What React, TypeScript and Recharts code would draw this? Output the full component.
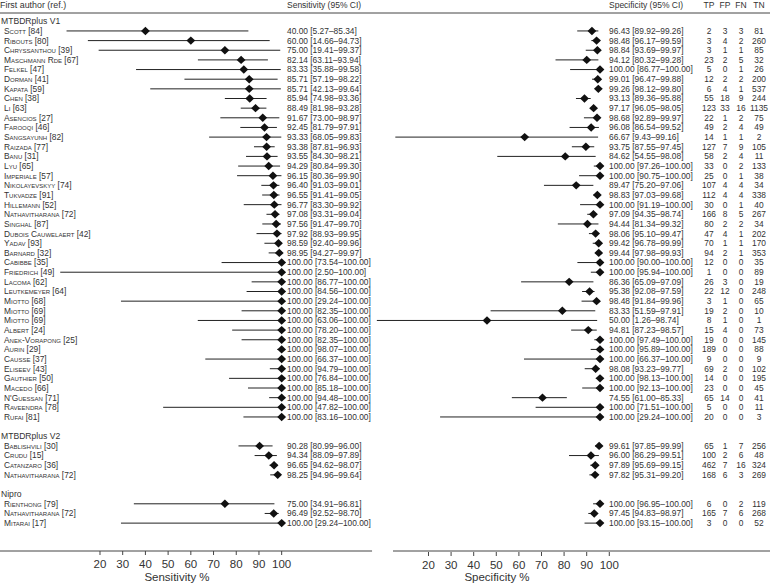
import { ScatterChart, Scatter, XAxis, YAxis, ErrorBar, ReferenceLine } from "recharts";

// ---- data ----
const v1Authors = [
  "Scott [84]", "Ribouts [80]", "Chryssanthou [39]", "Maschmann Rde [67]", "Felkel [47]",
  "Dorman [41]", "Kapata [59]", "Chen [38]", "Li [63]", "Asencios [27]", "Farooqi [46]",
  "Sangsayunh [82]", "Raizada [77]", "Banu [31]", "Lyu [65]", "Imperiale [57]",
  "Nikolayevskyy [74]", "Tukvadze [91]", "Hillemann [52]", "Nathavitharana [72]",
  "Singhal [87]", "Dubois Cauwelaert [42]", "Yadav [93]", "Barnard [32]", "Cabibbe [35]",
  "Friedrich [49]", "Lacoma [62]", "Leutkemeyer [64]", "Miotto [68]", "Miotto [69]",
  "Miotto [69]", "Albert [24]", "Anek-Vorapong [25]", "Aurin [29]", "Causse [37]",
  "Eliseev [43]", "Gauthier [50]", "Macedo [66]", "N'Guessan [71]", "Raveendra [78]",
  "Rufai [81]",
];
// [estimate, lower, upper]
const v1Sens = [
  [40.0, 5.27, 85.34], [60.0, 14.66, 94.73], [75.0, 19.41, 99.37], [82.14, 63.11, 93.94],
  [83.33, 35.88, 99.58], [85.71, 57.19, 98.22], [85.71, 42.13, 99.64], [85.94, 74.98, 93.36],
  [88.49, 81.98, 93.28], [91.67, 73.0, 98.97], [92.45, 81.79, 97.91], [93.33, 68.05, 99.83],
  [93.38, 87.81, 96.93], [93.55, 84.3, 98.21], [94.29, 80.84, 99.3], [96.15, 80.36, 99.9],
  [96.4, 91.03, 99.01], [96.55, 91.41, 99.05], [96.77, 83.3, 99.92], [97.08, 93.31, 99.04],
  [97.56, 91.47, 99.7], [97.92, 88.93, 99.95], [98.59, 92.4, 99.96], [98.95, 94.27, 99.97],
  [100, 73.54, 100], [100, 2.5, 100], [100, 86.77, 100], [100, 84.56, 100], [100, 29.24, 100],
  [100, 82.35, 100], [100, 63.06, 100], [100, 78.2, 100], [100, 82.35, 100], [100, 98.07, 100],
  [100, 66.37, 100], [100, 94.79, 100], [100, 76.84, 100], [100, 85.18, 100], [100, 94.48, 100],
  [100, 47.82, 100], [100, 83.16, 100],
];
const v1Spec = [
  [96.43, 89.92, 99.26], [98.48, 96.17, 99.59], [98.84, 93.69, 99.97], [94.12, 80.32, 99.28],
  [100, 86.77, 100], [99.01, 96.47, 99.88], [99.26, 98.12, 99.8], [93.13, 89.36, 95.88],
  [97.17, 96.05, 98.05], [98.68, 92.89, 99.97], [96.08, 86.54, 99.52], [66.67, 9.43, 99.16],
  [93.75, 87.55, 97.45], [84.62, 54.55, 98.08], [100, 97.26, 100], [100, 90.75, 100],
  [89.47, 75.2, 97.06], [98.83, 97.03, 99.68], [100, 91.19, 100], [97.09, 94.35, 98.74],
  [94.44, 81.34, 99.32], [98.06, 95.1, 99.47], [99.42, 96.78, 99.99], [99.44, 97.98, 99.93],
  [100, 90.0, 100], [100, 95.94, 100], [86.36, 65.09, 97.09], [95.38, 92.08, 97.59],
  [98.48, 91.84, 99.96], [83.33, 51.59, 97.91], [50.0, 1.26, 98.74], [94.81, 87.23, 98.57],
  [100, 97.49, 100], [100, 95.89, 100], [100, 66.37, 100], [98.08, 93.23, 99.77],
  [100, 98.13, 100], [100, 92.13, 100], [74.55, 61.0, 85.33], [100, 71.51, 100],
  [100, 29.24, 100],
];
// [TP, FP, FN, TN]
const v1Counts = [
  [2, 3, 3, 81], [3, 4, 2, 260], [3, 1, 1, 85], [23, 2, 5, 32], [5, 0, 1, 26], [12, 2, 2, 200],
  [6, 4, 1, 537], [55, 18, 9, 244], [123, 33, 16, 1135], [22, 1, 2, 75], [49, 2, 4, 49],
  [14, 1, 1, 2], [127, 7, 9, 105], [58, 2, 4, 11], [33, 0, 2, 133], [25, 0, 1, 38],
  [107, 4, 4, 34], [112, 4, 4, 338], [30, 0, 1, 40], [166, 8, 5, 267], [80, 2, 2, 34],
  [47, 4, 1, 202], [70, 1, 1, 170], [94, 2, 1, 353], [12, 0, 0, 35], [1, 0, 0, 89],
  [26, 3, 0, 19], [22, 12, 0, 248], [3, 1, 0, 65], [19, 2, 0, 10], [8, 1, 0, 1],
  [15, 4, 0, 73], [19, 0, 0, 145], [189, 0, 0, 88], [9, 0, 0, 9], [69, 2, 0, 102],
  [14, 0, 0, 195], [23, 0, 0, 45], [65, 14, 0, 41], [5, 0, 0, 11], [20, 0, 0, 3],
];

const v2Authors = ["Bablishvili [30]", "Crudu [15]", "Catanzaro [36]", "Nathavitharana [72]"];
const v2Sens = [[90.28, 80.99, 96.0], [94.34, 88.09, 97.89], [96.65, 94.62, 98.07], [98.25, 94.96, 99.64]];
const v2Spec = [[99.61, 97.85, 99.99], [96.0, 86.29, 99.51], [97.89, 95.69, 99.15], [97.82, 95.31, 99.2]];
const v2Counts = [[65, 1, 7, 256], [100, 2, 6, 48], [462, 7, 16, 324], [168, 6, 3, 269]];

const niproAuthors = ["Rienthong [79]", "Nathavitharana [72]", "Mitarai [17]"];
const niproSens = [[75.0, 34.91, 96.81], [96.49, 92.52, 98.7], [100, 29.24, 100]];
const niproSpec = [[100, 96.95, 100], [97.45, 94.83, 98.97], [100, 93.15, 100]];
const niproCounts = [[6, 0, 2, 119], [165, 7, 6, 268], [3, 0, 0, 52]];

const axisTicks = [20, 30, 40, 50, 60, 70, 80, 90, 100];
const countHeaders = ["TP", "FP", "FN", "TN"];

// ---- layout ----
const FONT = "'Liberation Sans', Arial, sans-serif";
const INK = "#333";
const SENS_DOMAIN: [number, number] = [-24.03, 315.03];
const SPEC_TICK_DOMAIN: [number, number] = [-169.6, 171.11];
const SPEC_DATA_DOMAIN: [number, number] = [-165.49, 175.22];
const ROW_DOMAIN: [number, number] = [-0.86, 54.89];
const COUNT_X = [709, 725, 741, 759];

const groups = [
  { name: "MTBDRplus V1", authors: v1Authors, sens: v1Sens, spec: v1Spec, counts: v1Counts },
  { name: "MTBDRplus V2", authors: v2Authors, sens: v2Sens, spec: v2Spec, counts: v2Counts },
  { name: "Nipro", authors: niproAuthors, sens: niproSens, spec: niproSpec, counts: niproCounts },
];

type Row = {
  row: number;
  kind: "group" | "study";
  label: string;
  sens?: number[];
  spec?: number[];
  counts?: number[];
};

const rows: Row[] = [];
let r = 0;
groups.forEach((g, gi) => {
  if (gi > 0) r += 1; // blank line between groups
  rows.push({ row: r++, kind: "group", label: g.name });
  g.authors.forEach((a, i) => {
    rows.push({ row: r++, kind: "study", label: a, sens: g.sens[i], spec: g.spec[i], counts: g.counts[i] });
  });
});

const rowLookup: Record<number, Row> = {};
rows.forEach((row) => (rowLookup[row.row] = row));
const studies = rows.filter((row) => row.kind === "study");

const sensPoints = studies.map((s) => ({
  x: s.sens![0],
  y: s.row,
  err: [s.sens![0] - s.sens![1], s.sens![2] - s.sens![0]],
}));
const specPoints = studies.map((s) => ({
  x: s.spec![0],
  y: s.row,
  err: [s.spec![0] - s.spec![1], s.spec![2] - s.spec![0]],
}));

const ciText = (t: number[]) => `${t[0].toFixed(2)} [${t[1].toFixed(2)}–${t[2].toFixed(2)}]`;

function Diamond(props: any) {
  const { cx, cy } = props;
  if (cx == null || cy == null) return null;
  const w = 4.4;
  const h = 4.2;
  return <path d={`M${cx - w},${cy}L${cx},${cy - h}L${cx + w},${cy}L${cx},${cy + h}Z`} fill="#111" />;
}

function RowLabels(props: any) {
  const { y, payload } = props;
  const row = rowLookup[payload.value];
  if (!row) return null;
  const txt = { fontFamily: FONT, fill: INK, dy: "0.35em" } as any;
  return (
    <g>
      {row.row === 0 ? (
        <g>
          <text x={0} y={y - 16.3} fontSize={8.9} {...txt}>First author (ref.)</text>
          <text x={287} y={y - 16.3} fontSize={8.5} {...txt}>Sensitivity (95% CI)</text>
          <text x={609} y={y - 16.3} fontSize={8.5} {...txt}>Specificity (95% CI)</text>
          {countHeaders.map((h, k) => (
            <text key={h} x={COUNT_X[k]} y={y - 16.3} fontSize={8.5} textAnchor="middle" {...txt}>
              {h}
            </text>
          ))}
        </g>
      ) : null}
      {row.kind === "group" ? (
        <text x={1} y={y} fontSize={8.6} {...txt}>{row.label}</text>
      ) : (
        <g>
          <text x={4} y={y} fontSize={8.4} style={{ fontVariant: "small-caps" }} {...txt}>
            {row.label}
          </text>
          <text x={287} y={y} fontSize={8.4} {...txt}>{ciText(row.sens!)}</text>
          <text x={609} y={y} fontSize={8.4} {...txt}>{ciText(row.spec!)}</text>
          {row.counts!.map((c, k) => (
            <text key={k} x={COUNT_X[k]} y={y} fontSize={8.4} textAnchor="middle" {...txt}>
              {c}
            </text>
          ))}
        </g>
      )}
    </g>
  );
}

function AxisTitle({ text, cx }: { text: string; cx: number }) {
  return (
    <text x={cx} y={581} textAnchor="middle" fontFamily={FONT} fontSize={11.5} fill={INK}>
      {text}
    </text>
  );
}

const tickStyle = { fontFamily: FONT, fontSize: 11.5, fill: INK };

export default function App() {
  return (
    <div style={{ position: "absolute", left: 0, top: 0, width: 770, height: 585, background: "#fff" }}>
      <ScatterChart width={770} height={585} margin={{ top: 13, right: 0, bottom: 32, left: 0 }}>
        <XAxis
          xAxisId="sens"
          dataKey="x"
          type="number"
          domain={SENS_DOMAIN}
          allowDataOverflow
          ticks={axisTicks}
          interval={0}
          height={1}
          axisLine={false}
          tickLine={{ stroke: "#444" }}
          tickSize={4}
          tickMargin={5}
          tick={tickStyle}
          label={<AxisTitle text="Sensitivity %" cx={177} />}
        />
        <XAxis
          xAxisId="specTicks"
          dataKey="x"
          type="number"
          domain={SPEC_TICK_DOMAIN}
          allowDataOverflow
          ticks={axisTicks}
          interval={0}
          height={1}
          axisLine={false}
          tickLine={{ stroke: "#444" }}
          tickSize={4}
          tickMargin={5}
          tick={tickStyle}
          label={<AxisTitle text="Specificity %" cx={497} />}
        />
        <XAxis
          xAxisId="spec"
          dataKey="x"
          type="number"
          domain={SPEC_DATA_DOMAIN}
          allowDataOverflow
          hide
          height={0}
        />
        <YAxis
          dataKey="y"
          type="number"
          domain={ROW_DOMAIN}
          allowDataOverflow
          reversed
          mirror
          width={1}
          ticks={rows.map((row) => row.row)}
          interval={0}
          axisLine={false}
          tickLine={false}
          tick={(p: any) => <RowLabels {...p} />}
        />
        <ReferenceLine xAxisId="sens" y={ROW_DOMAIN[0]} stroke="#444" ifOverflow="visible" />
        <ReferenceLine
          xAxisId="sens"
          segment={[{ x: SENS_DOMAIN[0], y: ROW_DOMAIN[1] }, { x: 139.8, y: ROW_DOMAIN[1] }]}
          stroke="#444"
          ifOverflow="visible"
        />
        <ReferenceLine
          xAxisId="specTicks"
          segment={[{ x: 4.3, y: ROW_DOMAIN[1] }, { x: SPEC_TICK_DOMAIN[1], y: ROW_DOMAIN[1] }]}
          stroke="#444"
          ifOverflow="visible"
        />
        <Scatter xAxisId="sens" data={sensPoints} shape={<Diamond />} isAnimationActive={false}>
          <ErrorBar dataKey="err" direction="x" width={0} stroke="#222" strokeWidth={1} isAnimationActive={false} />
        </Scatter>
        <Scatter xAxisId="spec" data={specPoints} shape={<Diamond />} isAnimationActive={false}>
          <ErrorBar dataKey="err" direction="x" width={0} stroke="#222" strokeWidth={1} isAnimationActive={false} />
        </Scatter>
      </ScatterChart>
    </div>
  );
}
